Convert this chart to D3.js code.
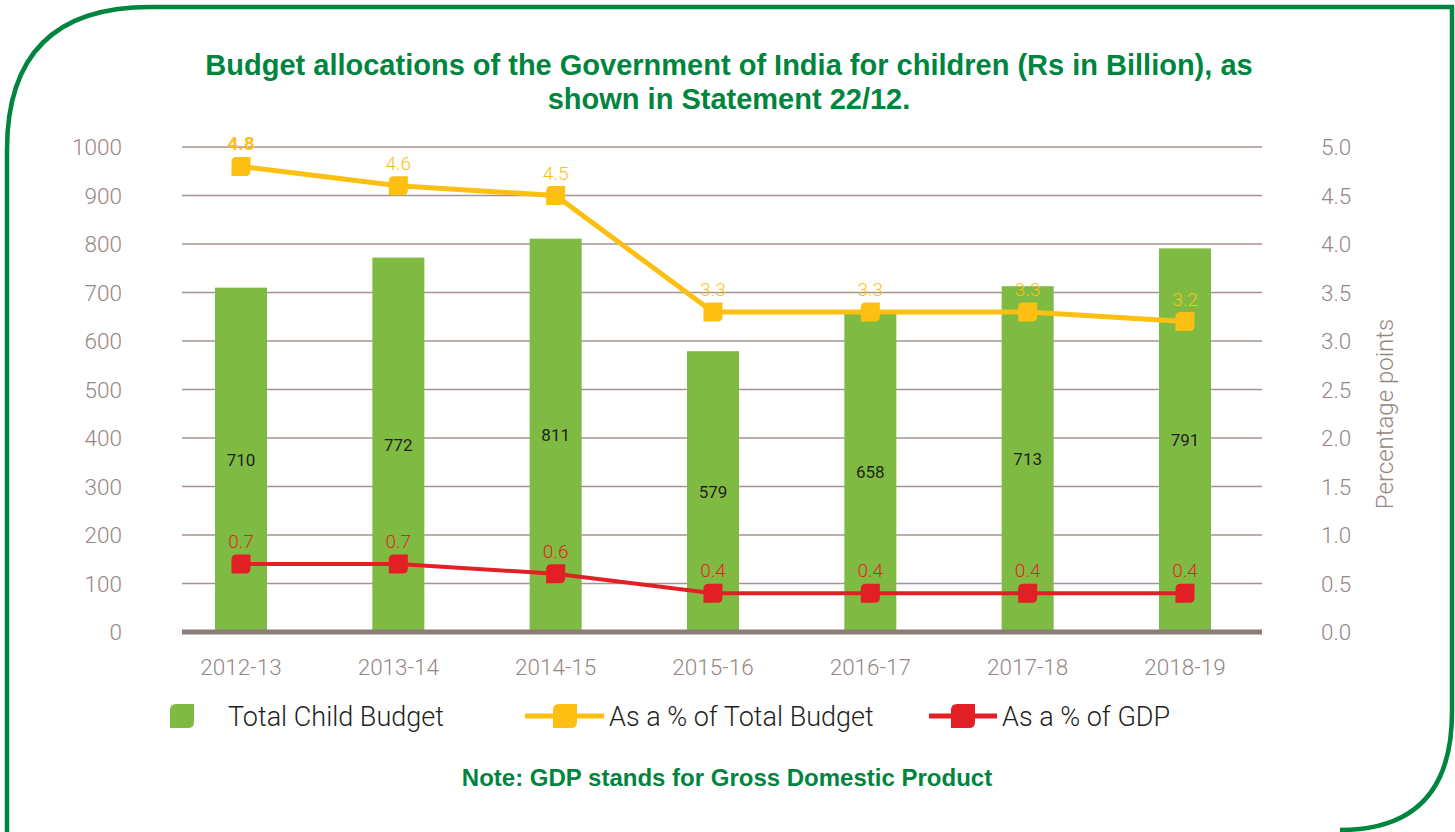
<!DOCTYPE html>
<html lang="en">
<head>
    <meta charset="UTF-8">
    <title>Budget allocations for children</title>
    <script src="https://cdn.jsdelivr.net/npm/d3@7/dist/d3.min.js"></script>
    <style>
        body { margin: 0; background: #fff; }
        svg { display: block; }
        .tick-label { font-family: Roboto, sans-serif; font-weight: 300; fill: #978784; font-size: 22.5px; }
        .title { font-family: "Liberation Sans", Arial, sans-serif; font-weight: bold; fill: #00853f; }
    </style>
</head>
<body>
<script>
    // chart data
    const years = ['2012-13', '2013-14', '2014-15', '2015-16', '2016-17', '2017-18', '2018-19'];
    const childBudget = [710, 772, 811, 579, 658, 713, 791];
    const pctTotalBudget = [4.8, 4.6, 4.5, 3.3, 3.3, 3.3, 3.2];
    const pctGDP = [0.7, 0.7, 0.6, 0.4, 0.4, 0.4, 0.4];
    const leftTicks = [0, 100, 200, 300, 400, 500, 600, 700, 800, 900, 1000];
    const rightTicks = [0, 0.5, 1, 1.5, 2, 2.5, 3, 3.5, 4, 4.5, 5];

    const width = 1455;
    const height = 832;

    const green = '#7fbb42';
    const yellow = '#fdbf12';
    const red = '#e31f26';

    let svg = d3.select('body')
        .append('svg')
        .attr('width', width)
        .attr('height', height);

    // frame: rounded top-left and bottom-right corners
    svg.append('path')
        .attr('d', 'M7,840 V150 Q7,7 150,7 H1452 V712 Q1452,830 1340,830')
        .attr('fill', 'none')
        .attr('stroke', '#00853f')
        .attr('stroke-width', 4.5);

    // title
    const title = svg.append('text')
        .attr('class', 'title')
        .attr('text-anchor', 'middle')
        .attr('font-size', 29);
    title.append('tspan').attr('x', 729).attr('y', 75)
        .text('Budget allocations of the Government of India for children (Rs in Billion), as');
    title.append('tspan').attr('x', 729).attr('y', 109)
        .text('shown in Statement 22/12.');

    // scales
    const x0 = 182, x1 = 1262;
    const x = d3.scalePoint().domain(years).range([241, 1185]);
    const yL = d3.scaleLinear().domain([0, 1000]).range([632, 147]);
    const yR = d3.scaleLinear().domain([0, 5]).range([632, 147]);

    // grid lines
    svg.append('g')
        .selectAll('line')
        .data(leftTicks.filter(d => d > 0))
        .enter()
        .append('line')
        .attr('x1', x0).attr('x2', x1)
        .attr('y1', d => yL(d)).attr('y2', d => yL(d))
        .attr('stroke', '#a3948f')
        .attr('stroke-width', 1.4);

    // left axis labels
    svg.append('g')
        .selectAll('text')
        .data(leftTicks)
        .enter()
        .append('text')
        .attr('class', 'tick-label')
        .attr('x', 122)
        .attr('y', d => yL(d) + 8)
        .attr('text-anchor', 'end')
        .text(d => d);

    // right axis labels
    svg.append('g')
        .selectAll('text')
        .data(rightTicks)
        .enter()
        .append('text')
        .attr('class', 'tick-label')
        .attr('x', 1321)
        .attr('y', d => yR(d) + 8)
        .text(d => d3.format('.1f')(d));

    svg.append('text')
        .attr('class', 'tick-label')
        .attr('font-size', 24)
        .style('font-size', '24px')
        .attr('transform', 'translate(1393,414) rotate(-90)')
        .attr('text-anchor', 'middle')
        .text('Percentage points');

    // bars
    const barW = 52;
    svg.append('g')
        .selectAll('rect')
        .data(childBudget)
        .enter()
        .append('rect')
        .attr('x', (d, i) => x(years[i]) - barW / 2)
        .attr('y', d => yL(d))
        .attr('width', barW)
        .attr('height', d => yL(0) - yL(d))
        .attr('fill', green);

    // baseline
    svg.append('line')
        .attr('x1', x0).attr('x2', x1)
        .attr('y1', yL(0)).attr('y2', yL(0))
        .attr('stroke', '#8c7c79')
        .attr('stroke-width', 5);

    // bar labels
    svg.append('g')
        .selectAll('text')
        .data(childBudget)
        .enter()
        .append('text')
        .attr('x', (d, i) => x(years[i]))
        .attr('y', d => (yL(d) + yL(0)) / 2 + 6)
        .attr('text-anchor', 'middle')
        .attr('font-family', 'Roboto, sans-serif')
        .attr('font-size', 17)
        .attr('fill', '#231f20')
        .text(d => d);

    // x labels
    svg.append('g')
        .selectAll('text')
        .data(years)
        .enter()
        .append('text')
        .attr('class', 'tick-label')
        .attr('x', d => x(d))
        .attr('y', 675)
        .attr('text-anchor', 'middle')
        .text(d => d);

    // leaf-shaped marker: rounded top-left and bottom-right corners
    function leaf (s, r) {
        const h = s / 2;
        return `M${-h + r},${-h} H${h} V${h - r} Q${h},${h} ${h - r},${h} H${-h} V${-h + r} Q${-h},${-h} ${-h + r},${-h} Z`;
    }

    function drawSeries (values, color, lw, bold) {
        const line = d3.line()
            .x((d, i) => x(years[i]))
            .y(d => yR(d));
        svg.append('path')
            .datum(values)
            .attr('d', line)
            .attr('fill', 'none')
            .attr('stroke', color)
            .attr('stroke-width', lw);
        svg.append('g')
            .selectAll('path')
            .data(values)
            .enter()
            .append('path')
            .attr('d', leaf(19, 5))
            .attr('transform', (d, i) => `translate(${x(years[i])},${yR(d)})`)
            .attr('fill', color);
        svg.append('g')
            .selectAll('text')
            .data(values)
            .enter()
            .append('text')
            .attr('x', (d, i) => x(years[i]))
            .attr('y', d => yR(d) - 16)
            .attr('text-anchor', 'middle')
            .attr('font-family', 'Roboto, sans-serif')
            .attr('font-weight', (d, i) => (bold && i === 0) ? 700 : 300)
            .attr('font-size', 19)
            .attr('fill', color)
            .text(d => d3.format('.1f')(d));
    }

    drawSeries(pctTotalBudget, yellow, 5, true);
    drawSeries(pctGDP, red, 4, false);

    // legend
    const lg = svg.append('g').attr('font-family', 'Roboto, sans-serif').attr('font-size', 27).attr('fill', '#231f20');
    lg.append('path').attr('d', leaf(24, 6)).attr('transform', 'translate(182,716)').attr('fill', green);
    lg.append('text').attr('x', 228).attr('y', 726).attr('font-weight', 300).text('Total Child Budget');

    lg.append('line').attr('x1', 525).attr('x2', 604).attr('y1', 716).attr('y2', 716)
        .attr('stroke', yellow).attr('stroke-width', 5);
    lg.append('path').attr('d', leaf(24, 6)).attr('transform', 'translate(565,716)').attr('fill', yellow);
    lg.append('text').attr('x', 609).attr('y', 726).attr('font-weight', 300).text('As a % of Total Budget');

    lg.append('line').attr('x1', 929).attr('x2', 997).attr('y1', 716).attr('y2', 716)
        .attr('stroke', red).attr('stroke-width', 5);
    lg.append('path').attr('d', leaf(24, 6)).attr('transform', 'translate(963,716)').attr('fill', red);
    lg.append('text').attr('x', 1002).attr('y', 726).attr('font-weight', 300).text('As a % of GDP');

    // note
    svg.append('text')
        .attr('class', 'title')
        .attr('x', 727)
        .attr('y', 786)
        .attr('text-anchor', 'middle')
        .attr('font-size', 24)
        .text('Note: GDP stands for Gross Domestic Product');
</script>
</body>
</html>
